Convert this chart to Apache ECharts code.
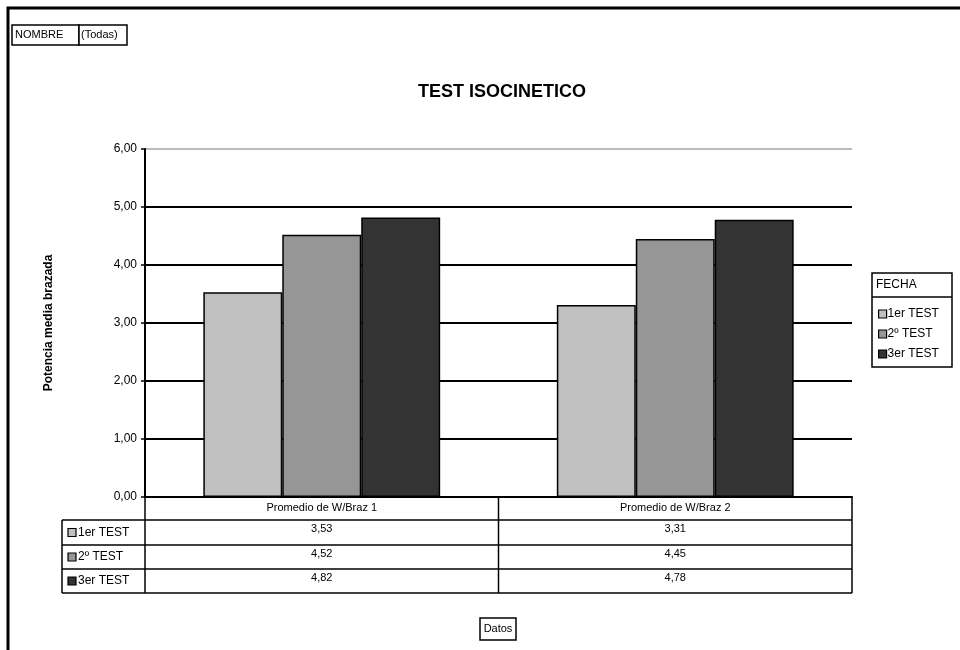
<!DOCTYPE html>
<html><head><meta charset="utf-8">
<script src="https://cdn.jsdelivr.net/npm/echarts@6/dist/echarts.min.js"></script>
<style>html,body{margin:0;padding:0;background:#fff}#c{width:960px;height:650px}</style>
</head><body><div id="c"></div>
<script>
const categories = ['Promedio de W/Braz 1', 'Promedio de W/Braz 2'];
const seriesNames = ['1er TEST', '2º TEST', '3er TEST'];
const test1 = [3.53, 3.31];
const test2 = [4.52, 4.45];
const test3 = [4.82, 4.78];
const yTicks = [0, 1, 2, 3, 4, 5, 6];
const colors = ['#c0c0c0', '#969696', '#333333'];

const F = 'Arial, "Liberation Sans", sans-serif';
const values = [test1, test2, test3];
const fmt = v => v.toFixed(2).replace('.', ',');

const gL = 145, gR = 852, gT = 149, gB = 497;
const colX = [gL, (gL + gR) / 2, gR];
const rowY = [gB, 520, 545, 569, 593];
const tableLeft = 62;

const graphics = [];
// outer frame
graphics.push({type:'polyline', shape:{points:[[8,650],[8,8],[960,8]]}, style:{stroke:'#000', lineWidth:3, fill:null}});
// NOMBRE box
graphics.push({type:'rect', shape:{x:12,y:25,width:67,height:20}, style:{fill:'#fff', stroke:'#000', lineWidth:1.5}});
graphics.push({type:'rect', shape:{x:79,y:25,width:48,height:20}, style:{fill:'#fff', stroke:'#000', lineWidth:1.5}});
graphics.push({type:'text', x:15, y:35, style:{text:'NOMBRE', font:'11px '+F, fill:'#000', verticalAlign:'middle'}});
graphics.push({type:'text', x:81, y:35, style:{text:'(Todas)', font:'11px '+F, fill:'#000', verticalAlign:'middle'}});
// Datos box
graphics.push({type:'rect', shape:{x:480,y:618,width:36,height:22}, style:{fill:'#fff', stroke:'#000', lineWidth:1.5}});
graphics.push({type:'text', x:498, y:629, style:{text:'Datos', font:'11px '+F, fill:'#000', align:'center', verticalAlign:'middle'}});
// legend box
graphics.push({type:'rect', shape:{x:872,y:273,width:80,height:94}, style:{fill:'#fff', stroke:'#000', lineWidth:1.5}});
graphics.push({type:'line', shape:{x1:872,y1:297,x2:952,y2:297}, style:{stroke:'#000', lineWidth:1.5}});
graphics.push({type:'text', x:876, y:285, style:{text:'FECHA', font:'12px '+F, fill:'#000', verticalAlign:'middle'}});

// data table
const ln = (x1,y1,x2,y2) => graphics.push({type:'line', shape:{x1,y1,x2,y2}, style:{stroke:'#000', lineWidth:1.5}});
for (let r = 1; r < rowY.length; r++) ln(tableLeft, rowY[r], gR, rowY[r]);
ln(tableLeft, rowY[1], tableLeft, rowY[4]);
for (const x of colX) ln(x, rowY[0], x, rowY[4]);
for (let s = 0; s < seriesNames.length; s++) {
  const yTop = rowY[s + 1], yBot = rowY[s + 2];
  graphics.push({type:'rect', shape:{x:68, y:(yTop+yBot)/2-4, width:8, height:8}, style:{fill:colors[s], stroke:'#000', lineWidth:1.2}});
  graphics.push({type:'text', x:78, y:(yTop+yBot)/2, style:{text:seriesNames[s], font:'12px '+F, fill:'#000', verticalAlign:'middle'}});
  for (let c = 0; c < categories.length; c++) {
    graphics.push({type:'text', x:(colX[c]+colX[c+1])/2, y:yTop+3, style:{text:fmt(values[s][c]), font:'11px '+F, fill:'#000', align:'center', verticalAlign:'top'}});
  }
}

const chart = echarts.init(document.getElementById('c'), null, {renderer:'canvas'});
chart.setOption({
  animation: false,
  backgroundColor: '#fff',
  title: {text:'TEST ISOCINETICO', left:497, top:78, textAlign:'center',
    textStyle:{fontFamily:F, fontSize:18, fontWeight:'bold', color:'#000'}},
  legend: {
    orient:'vertical', left:873, top:303, itemWidth:8, itemHeight:8, itemGap:8,
    icon:'rect', data: seriesNames,
    itemStyle:{borderColor:'#000', borderWidth:1.2},
    textStyle:{fontFamily:F, fontSize:12, color:'#000', padding:[0,0,0,-4]}
  },
  grid: {left:gL, right:960-gR, top:gT, bottom:650-gB, containLabel:false},
  xAxis: {
    type:'category', data: categories,
    axisLine:{show:true, lineStyle:{color:'#000', width:2}},
    axisTick:{show:false},
    axisLabel:{fontFamily:F, fontSize:11, color:'#000', margin:5}
  },
  yAxis: {
    type:'value', min:yTicks[0], max:yTicks[yTicks.length-1], interval:1,
    name:'Potencia media brazada', nameLocation:'middle', nameRotate:90, nameGap:90,
    nameTextStyle:{fontFamily:F, fontSize:12, fontWeight:'bold', color:'#000'},
    axisLine:{show:true, lineStyle:{color:'#000', width:2}},
    axisTick:{show:true, length:4, lineStyle:{color:'#000', width:1.5}},
    axisLabel:{fontFamily:F, fontSize:12, color:'#000', margin:8, formatter: v => fmt(v)},
    splitLine:{show:true, lineStyle:{color:['#000','#000','#000','#000','#000','#000','#bbbbbb'], width:2}}
  },
  series: seriesNames.map((n, i) => ({
    name:n, type:'bar', data: values[i], barGap:'0%', barCategoryGap:'33%',
    itemStyle:{color:colors[i], borderColor:'#000', borderWidth:1.5}
  })),
  graphic: graphics
});
</script></body></html>
